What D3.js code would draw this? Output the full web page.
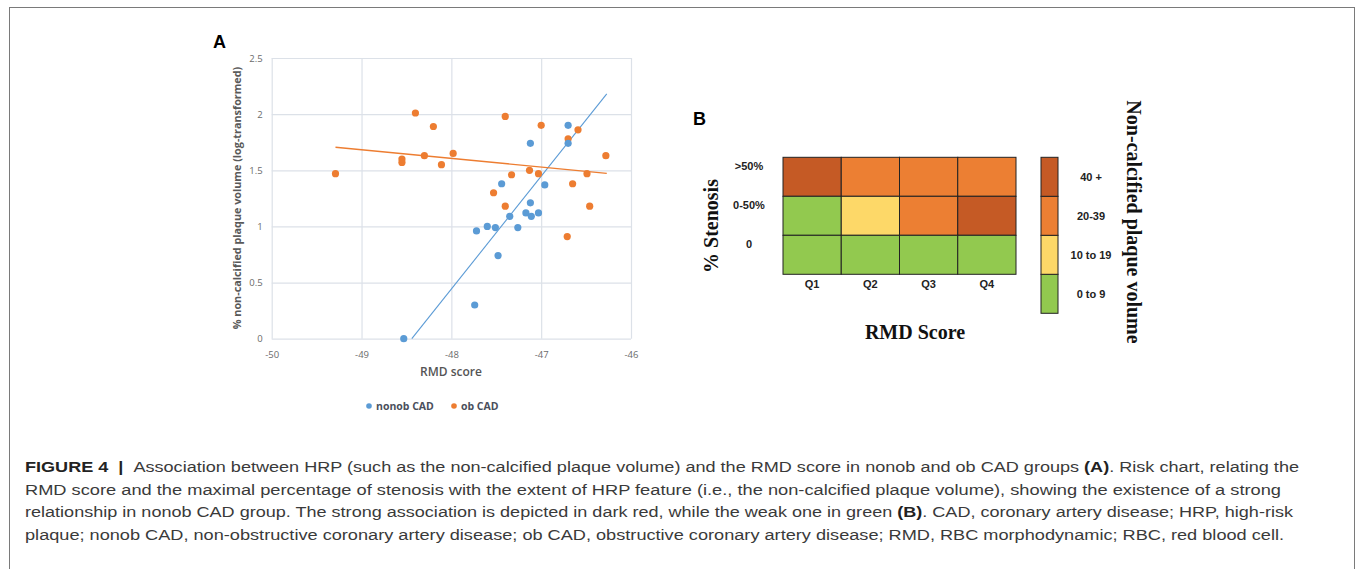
<!DOCTYPE html>
<html>

<head>
    <meta charset=utf-8 />
    <script src="https://cdn.jsdelivr.net/npm/d3@7"></script>
    <title>figure 4</title>
    <style>
        html,
        body {
            margin: 0;
            padding: 0;
            background: #fff;
        }

        svg {
            display: block;
        }
    </style>
</head>

<body>
    <div id="svg-canvas"></div>
    <script>
        // panel A data
        var nonobX = [-46.70, -47.12, -46.70, -47.44, -46.96, -47.12, -47.35, -47.17, -47.11, -47.03,
            -47.26, -47.72, -47.60, -47.51, -47.48, -47.74, -48.53];
        var nonobY = [1.90, 1.74, 1.74, 1.38, 1.37, 1.21, 1.09, 1.12, 1.09, 1.12,
            0.99, 0.96, 1.00, 0.99, 0.74, 0.30, 0.00];
        var obX = [-49.29, -48.40, -48.20, -48.55, -48.55, -48.30, -47.98, -48.11, -47.40, -47.00, -46.70,
            -46.59, -46.28, -47.13, -47.03, -47.33, -46.49, -46.65, -47.53, -47.40, -46.46, -46.71];
        var obY = [1.47, 2.01, 1.89, 1.60, 1.57, 1.63, 1.65, 1.55, 1.98, 1.90, 1.78,
            1.86, 1.63, 1.50, 1.47, 1.46, 1.47, 1.38, 1.30, 1.18, 1.18, 0.91];
        var nonobTrendX = [-48.44, -46.27];
        var nonobTrendY = [0, 2.18];
        var obTrendX = [-49.29, -46.27];
        var obTrendY = [1.705, 1.473];
        var xTicks = [-50, -49, -48, -47, -46];
        var yTicks = [0, 0.5, 1, 1.5, 2, 2.5];
        var seriesNames = ['nonob CAD', 'ob CAD'];

        // panel B data
        var quartiles = ['Q1', 'Q2', 'Q3', 'Q4'];
        var stenosis = ['>50%', '0-50%', '0'];
        var volumeBins = ['0 to 9', '10 to 19', '20-39', '40 +'];
        // bin index per cell, rows follow stenosis, columns follow quartiles
        var riskGrid = [
            [3, 2, 2, 2],
            [0, 1, 2, 3],
            [0, 0, 0, 0]
        ];

        var captionLines = [
            [['FIGURE 4\u00a0\u00a0|\u00a0\u00a0', true], ['Association between HRP (such as the non-calcified plaque volume) and the RMD score in nonob and ob CAD groups ', false], ['(A)', true], ['. Risk chart, relating the', false]],
            [['RMD score and the maximal percentage of stenosis with the extent of HRP feature (i.e., the non-calcified plaque volume), showing the existence of a strong', false]],
            [['relationship in nonob CAD group. The strong association is depicted in dark red, while the weak one in green ', false], ['(B)', true], ['. CAD, coronary artery disease; HRP, high-risk', false]],
            [['plaque; nonob CAD, non-obstructive coronary artery disease; ob CAD, obstructive coronary artery disease; RMD, RBC morphodynamic; RBC, red blood cell.', false]]
        ];
        var captionEnds = [1299, 1281, 1293, 1284];
    </script>
    <script>
        var W = 1357, H = 569;
        var svg = d3.select('#svg-canvas').append('svg')
            .attr('width', W)
            .attr('height', H)

        svg.append('rect')
            .attr('x', 9.5).attr('y', 7.5)
            .attr('width', 1345).attr('height', 580)
            .attr('fill', 'none')
            .attr('stroke', '#7a7a7a')

        var blue = '#5b9bd5', orange = '#ed7d31';
        var sansA = 'Open Sans, Liberation Sans, sans-serif';

        // ---------- panel A ----------
        var gA = svg.append('g');
        var x = d3.scaleLinear().domain([-50, -46]).range([271.7, 631]);
        var y = d3.scaleLinear().domain([0, 2.5]).range([338.7, 58]);

        gA.append('text')
            .attr('x', 213).attr('y', 48)
            .attr('font-family', 'Liberation Sans, Arial, sans-serif')
            .attr('font-weight', 'bold').attr('font-size', 18)
            .text('A')

        // plain hyphen minus like the original, not the unicode minus d3 uses
        var plain = d => String(d);

        var axisY = gA.append('g')
            .attr('transform', 'translate(' + x.range()[0] + ',0)')
            .call(d3.axisLeft(y).tickValues(yTicks).tickSize(-(x.range()[1] - x.range()[0])).tickPadding(9)
                .tickFormat(plain))
        var axisX = gA.append('g')
            .attr('transform', 'translate(0,' + y.range()[0] + ')')
            .call(d3.axisBottom(x).tickValues(xTicks).tickSize(-(y.range()[0] - y.range()[1])).tickPadding(13)
                .tickFormat(plain))

        customAxis(axisX);
        customAxis(axisY);

        function customAxis(axis) {
            axis.selectAll('line')
                .attr('stroke', '#dce1e8')
                .attr('stroke-width', 1.2)
            axis.selectAll('text')
                .attr('fill', '#6b6b6b')
                .attr('font-family', sansA)
                .attr('font-size', 9.5)
            axis.selectAll('.domain').remove()
        }

        gA.append('line')
            .attr('x1', x(nonobTrendX[0])).attr('y1', y(nonobTrendY[0]))
            .attr('x2', x(nonobTrendX[1])).attr('y2', y(nonobTrendY[1]))
            .attr('stroke', blue).attr('stroke-width', 1.1)
        gA.append('line')
            .attr('x1', x(obTrendX[0])).attr('y1', y(obTrendY[0]))
            .attr('x2', x(obTrendX[1])).attr('y2', y(obTrendY[1]))
            .attr('stroke', orange).attr('stroke-width', 1.3)

        gA.selectAll('.ob').data(d3.range(obX.length)).enter()
            .append('circle')
            .attr('cx', i => x(obX[i])).attr('cy', i => y(obY[i]))
            .attr('r', 3.6).attr('fill', orange)
        gA.selectAll('.nonob').data(d3.range(nonobX.length)).enter()
            .append('circle')
            .attr('cx', i => x(nonobX[i])).attr('cy', i => y(nonobY[i]))
            .attr('r', 3.6).attr('fill', blue)

        gA.append('text')
            .attr('transform', 'translate(241,198) rotate(-90)')
            .attr('text-anchor', 'middle')
            .attr('font-family', sansA).attr('font-size', 10.8).attr('font-weight', 'bold')
            .attr('fill', '#595959')
            .text('% non-calcified plaque volume (log-transformed)')

        gA.append('text')
            .attr('x', 451).attr('y', 376)
            .attr('text-anchor', 'middle')
            .attr('font-family', sansA).attr('font-size', 12).attr('font-weight', 600)
            .attr('fill', '#555')
            .text('RMD score')

        var legend = gA.append('g');
        var legendX = [369, 454];
        seriesNames.forEach(function (name, i) {
            legend.append('circle')
                .attr('cx', legendX[i]).attr('cy', 406)
                .attr('r', 2.8).attr('fill', i ? orange : blue)
            legend.append('text')
                .attr('x', legendX[i] + 7).attr('y', 410)
                .attr('font-family', sansA).attr('font-size', 10.5).attr('font-weight', 'bold')
                .attr('fill', '#4a4f5c')
                .text(name)
        })

        // ---------- panel B ----------
        var gB = svg.append('g');
        var serif = 'Liberation Serif, Times New Roman, serif';
        var arial = 'Liberation Sans, Arial, sans-serif';
        var binColors = ['#92c94f', '#fdd868', '#ec7f33', '#c55a25'];
        var color = d3.scaleOrdinal().domain(d3.range(volumeBins.length)).range(binColors);

        var xb = d3.scaleBand().domain(quartiles).range([783, 1016]);
        var yb = d3.scaleBand().domain(stenosis).range([157.3, 274.3]);

        gB.append('text')
            .attr('x', 693).attr('y', 125)
            .attr('font-family', arial)
            .attr('font-weight', 'bold').attr('font-size', 18)
            .text('B')

        var cells = [];
        riskGrid.forEach(function (row, r) {
            row.forEach(function (v, c) {
                cells.push({ row: stenosis[r], col: quartiles[c], v: v });
            })
        })

        gB.selectAll('.cell').data(cells).enter()
            .append('rect')
            .attr('x', d => xb(d.col)).attr('y', d => yb(d.row))
            .attr('width', xb.bandwidth()).attr('height', yb.bandwidth())
            .attr('fill', d => color(d.v))
            .attr('stroke', '#222').attr('stroke-width', 1)

        gB.selectAll('.rowlab').data(stenosis).enter()
            .append('text')
            .attr('x', 749).attr('y', d => yb(d) + 13)
            .attr('text-anchor', 'middle')
            .attr('font-family', arial).attr('font-size', 11).attr('font-weight', 'bold')
            .attr('fill', '#222')
            .text(d => d)

        gB.selectAll('.collab').data(quartiles).enter()
            .append('text')
            .attr('x', d => xb(d) + xb.bandwidth() / 2).attr('y', 288)
            .attr('text-anchor', 'middle')
            .attr('font-family', arial).attr('font-size', 11).attr('font-weight', 'bold')
            .attr('fill', '#222')
            .text(d => d)

        gB.append('text')
            .attr('transform', 'translate(718,226) rotate(-90)')
            .attr('text-anchor', 'middle')
            .attr('font-family', serif).attr('font-size', 20).attr('font-weight', 'bold')
            .attr('fill', '#111')
            .text('% Stenosis')

        gB.append('text')
            .attr('x', 915).attr('y', 339)
            .attr('text-anchor', 'middle')
            .attr('font-family', serif).attr('font-size', 20).attr('font-weight', 'bold')
            .attr('fill', '#111')
            .text('RMD Score')

        // colour key
        var yk = d3.scaleBand().domain(volumeBins.slice().reverse()).range([157.3, 313.3]);
        gB.selectAll('.key').data(volumeBins).enter()
            .append('rect')
            .attr('x', 1041).attr('y', d => yk(d))
            .attr('width', 17).attr('height', yk.bandwidth())
            .attr('fill', (d, i) => color(i))
            .attr('stroke', '#222').attr('stroke-width', 1)
        gB.selectAll('.keylab').data(volumeBins).enter()
            .append('text')
            .attr('x', 1091).attr('y', d => yk(d) + yk.bandwidth() / 2 + 4)
            .attr('text-anchor', 'middle')
            .attr('font-family', arial).attr('font-size', 11).attr('font-weight', 'bold')
            .attr('fill', '#222')
            .text(d => d)

        gB.append('text')
            .attr('transform', 'translate(1127,222) rotate(90)')
            .attr('text-anchor', 'middle')
            .attr('font-family', serif).attr('font-size', 20).attr('font-weight', 'bold')
            .attr('fill', '#111')
            .text('Non-calcified plaque volume')

        // ---------- caption ----------
        var cap = svg.append('g');
        captionLines.forEach(function (parts, i) {
            var t = cap.append('text')
                .attr('x', 25).attr('y', 472 + i * 22.7)
                .attr('font-family', arial).attr('font-size', 15.5)
                .attr('fill', '#3a3a3a')
                .attr('textLength', captionEnds[i] - 25)
                .attr('lengthAdjust', 'spacingAndGlyphs')
            parts.forEach(function (p) {
                t.append('tspan')
                    .attr('font-weight', p[1] ? 'bold' : 'normal')
                    .attr('fill', p[1] ? '#222' : '#3a3a3a')
                    .text(p[0])
            })
        })
    </script>
</body>

</html>
